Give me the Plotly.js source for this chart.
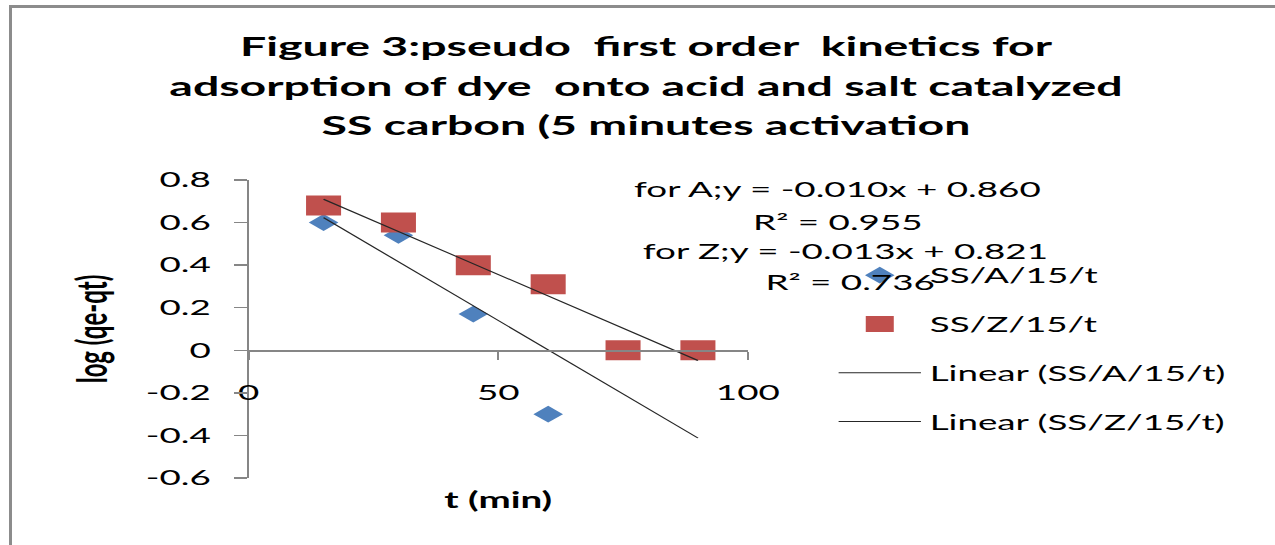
<!DOCTYPE html>
<html><head><meta charset="utf-8">
<script src="https://cdn.plot.ly/plotly-3.0.1.min.js"></script>
<style>
html,body{margin:0;padding:0;background:#fff;overflow:hidden;}
#wrap{position:absolute;left:0;top:0;width:1275px;height:545px;overflow:hidden;}
#chart{width:728px;height:545px;transform:scaleX(1.7513736);transform-origin:0 0;}
#frame{position:absolute;left:9px;top:5px;width:1266px;height:540px;border-top:3px solid #8c8c8c;border-left:3px solid #8c8c8c;box-sizing:border-box;pointer-events:none;}
</style></head>
<body>
<div id="wrap"><div id="chart"></div></div>
<div id="frame"></div>
<script>
// ---- data ----
const xA = [15, 30, 45, 60];
const yA = [0.60, 0.54, 0.17, -0.30];
const xZ = [15, 30, 45, 60, 75, 90];
const yZ = [0.68, 0.60, 0.40, 0.31, 0.0, 0.0];
const seriesNames = ['SS/A/15/t', 'SS/Z/15/t'];
const trendNames = ['Linear (SS/A/15/t)', 'Linear (SS/Z/15/t)'];
const trendSlope = [-0.0138, -0.0101];
const trendIntercept = [0.830, 0.861];
const labelLines = ['for A;y = -0.010x + 0.860', 'R\u00b2 = 0.955', 'for Z;y = -0.013x + 0.821', 'R\u00b2 = 0.736'];
const titleLines = ['Figure 3:pseudo\u00a0 first order\u00a0 kinetics for', 'adsorption of dye\u00a0 onto acid and salt catalyzed', 'SS carbon (5 minutes activation'];
const xTitle = 't (min)';
const yTitle = 'log (qe-qt)';
const yTickVals = [-0.6, -0.4, -0.2, 0, 0.2, 0.4, 0.6, 0.8];
const yTickText = ['-0.6', '-0.4', '-0.2', '0', '0.2', '0.4', '0.6', '0.8'];
const xTickVals = [0, 50, 100];
const xTickText = ['0', '50', '100'];

// ---- geometry (reference pixels -> unscaled plot pixels) ----
const W0 = 728, H = 545, S = 1275 / W0;
const plotL = 249 / S, plotR = 748 / S, plotT = 180, plotB = 478;
const px2x = X => (X / S - plotL) / (plotR - plotL);
const px2y = Y => (plotB - Y) / (plotB - plotT);
const FONT = 'Lato, "Open Sans", sans-serif';

const tx = [Math.min(...xZ), Math.max(...xZ)];
const trendTraces = trendNames.map((nm, i) => ({
  x: tx, y: tx.map(v => trendSlope[i] * v + trendIntercept[i]),
  mode: 'lines', name: nm, legendgroup: 'g' + (i + 2),
  line: {color: '#262626', width: 1}
}));

const data = [
  {x: xA, y: yA, mode: 'markers', name: seriesNames[0], legendgroup: 'g0',
   marker: {symbol: 'diamond', size: 13, color: '#4F81BD'}},
  {x: xZ, y: yZ, mode: 'markers', name: seriesNames[1], legendgroup: 'g1',
   marker: {symbol: 'square', size: 20, color: '#C0504D'}},
  ...trendTraces
];

const labelX = [630, 750, 640, 762];
const labelY = [188, 221, 250, 281];
const annotations = labelLines.map((t, i) => ({
  text: t, xref: 'paper', yref: 'paper', x: px2x(labelX[i]), y: px2y(labelY[i]),
  xanchor: 'left', yanchor: 'middle', showarrow: false,
  font: {family: FONT, size: 21, color: '#000'}
}));

const layout = {
  width: W0, height: H,
  paper_bgcolor: '#fff', plot_bgcolor: 'rgba(0,0,0,0)',
  margin: {l: plotL, r: W0 - plotR, t: plotT, b: H - plotB, pad: 0},
  title: {
    text: titleLines.map(t => '<span style="font-size:26.5px">' + t + '</span>').join('<br>'),
    font: {family: FONT, size: 30.5, color: '#000', weight: 'bold'},
    x: 646 / 1275, xanchor: 'center', xref: 'container',
    y: 1 - 56 / H, yanchor: 'middle', yref: 'container'
  },
  showlegend: true,
  legend: {
    x: px2x(830), y: px2y(255), xanchor: 'left', yanchor: 'top',
    font: {family: FONT, size: 21, color: '#000'},
    bgcolor: 'rgba(0,0,0,0)', borderwidth: 0,
    tracegroupgap: 18.5, itemwidth: 47, traceorder: 'grouped'
  },
  xaxis: {
    range: [0, 100], anchor: 'free', position: (0 - (-0.6)) / (0.8 - (-0.6)),
    showline: true, linecolor: '#868686', linewidth: 1.3,
    showgrid: false, zeroline: false,
    tickmode: 'array', tickvals: xTickVals, ticktext: xTickText,
    ticks: 'outside', ticklen: 8, tickwidth: 1, tickcolor: '#868686',
    ticklabelstandoff: 15,
    tickfont: {family: FONT, size: 21, color: '#000'},
    title: {text: xTitle, standoff: 89, font: {family: FONT, size: 22, color: '#000', weight: 'bold'}}
  },
  yaxis: {
    range: [-0.6, 0.8], domain: [0, 1],
    showline: true, linecolor: '#868686', linewidth: 1,
    showgrid: false, zeroline: false,
    tickmode: 'array', tickvals: yTickVals, ticktext: yTickText,
    ticks: 'outside', ticklen: 13 / S, tickwidth: 1.3, tickcolor: '#868686',
    ticklabelstandoff: 9,
    tickfont: {family: FONT, size: 21, color: '#000'},
    title: {text: yTitle, standoff: 14, font: {family: FONT, size: 24, color: '#000', weight: 'bold'}}
  },
  annotations: annotations
};

Plotly.newPlot('chart', data, layout, {staticPlot: true, displayModeBar: false});
</script>
</body></html>
